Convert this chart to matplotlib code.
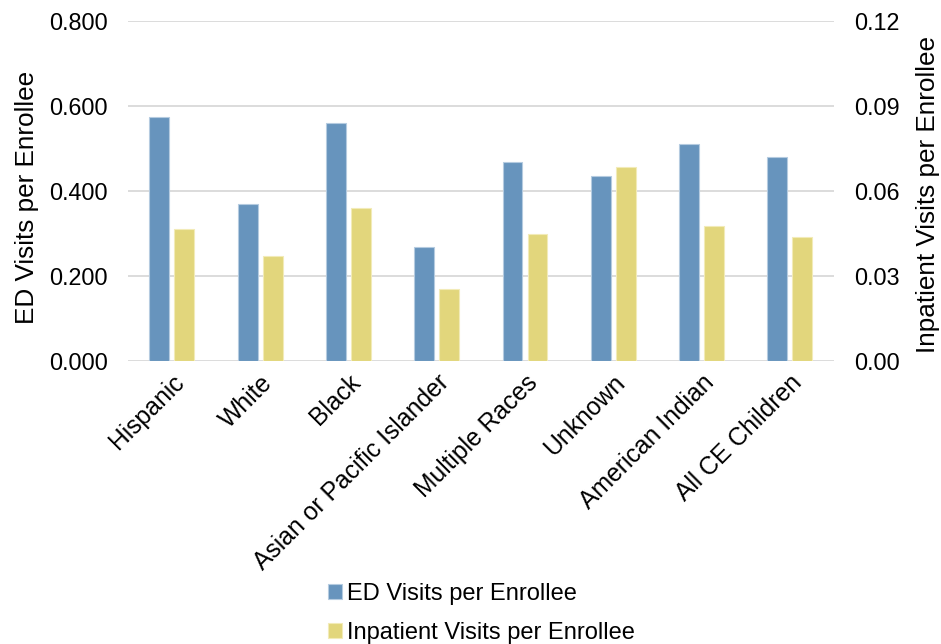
import numpy as np
import matplotlib
matplotlib.use('Agg')
import matplotlib.pyplot as plt

plt.rcParams['font.family'] = ['Liberation Sans', 'DejaVu Sans']

# data
groups = ['Hispanic', 'White', 'Black', 'Asian or Pacific Islander',
          'Multiple Races', 'Unknown', 'American Indian', 'All CE Children']
ed_visits = [0.575, 0.370, 0.559, 0.267, 0.468, 0.434, 0.510, 0.479]
ip_visits = [0.0466, 0.0370, 0.0538, 0.0254, 0.0446, 0.0685, 0.0475, 0.0438]
left_ticks = [0.0, 0.2, 0.4, 0.6, 0.8]
right_ticks = [0.0, 0.03, 0.06, 0.09, 0.12]

blue = '#6794BD'
yellow = '#E2D67C'

fig = plt.figure(figsize=(9.41, 6.44), dpi=100)
ax = fig.add_axes([0.1357, 0.4399, 0.7506, 0.5275])
ax2 = ax.twinx()

x = np.arange(len(groups))
w = 0.225
b1 = ax.bar(x - 0.141, ed_visits, w, color=blue, edgecolor='#B5CBE0',
            linewidth=0.8, label='ED Visits per Enrollee', zorder=3)
b2 = ax2.bar(x + 0.141, ip_visits, w, color=yellow, edgecolor='#F2EBB8',
             linewidth=0.8, label='Inpatient Visits per Enrollee', zorder=3)

ax.set_xlim(-0.5, len(groups) - 0.5)
ax.set_ylim(0, 0.8)
ax2.set_ylim(0, 0.12)
ax.set_yticks(left_ticks)
ax.set_yticklabels(['%.3f' % v for v in left_ticks])
ax2.set_yticks(right_ticks)
ax2.set_yticklabels(['%.2f' % v for v in right_ticks])

ax.yaxis.grid(True, color='#D9D9D9', linewidth=1.3, zorder=0)
ax.set_axisbelow(True)
for a in (ax, ax2):
    for s in a.spines.values():
        s.set_visible(False)
ax.tick_params(axis='y', length=0, pad=14.5, labelsize=16.8)
ax2.tick_params(axis='y', length=0, pad=14.5, labelsize=16.8)
ax.tick_params(axis='x', length=0, pad=7)

ax.set_xticks(x)
ax.set_xticklabels(groups, rotation=45, ha='right', rotation_mode='anchor',
                   fontsize=17.8)

# axis titles
fig.text(39 / 941, 0.5 + (644 / 2 - 197) / 644, 'ED Visits per Enrollee',
         rotation=90, ha='right', va='center', fontsize=18.8)
fig.text(940 / 941, 0.5 + (644 / 2 - 194) / 644, 'Inpatient Visits per Enrollee',
         rotation=90, ha='right', va='center', fontsize=18.8)

fig.legend(handles=[b1, b2], loc='upper center',
           bbox_to_anchor=(481 / 941, 1 - 583 / 644), ncol=1, frameon=False,
           fontsize=17, handlelength=0.6, handleheight=0.6, handletextpad=0.2,
           labelspacing=0.7, borderpad=0, borderaxespad=0)

fig.savefig('out.png', dpi=100)
